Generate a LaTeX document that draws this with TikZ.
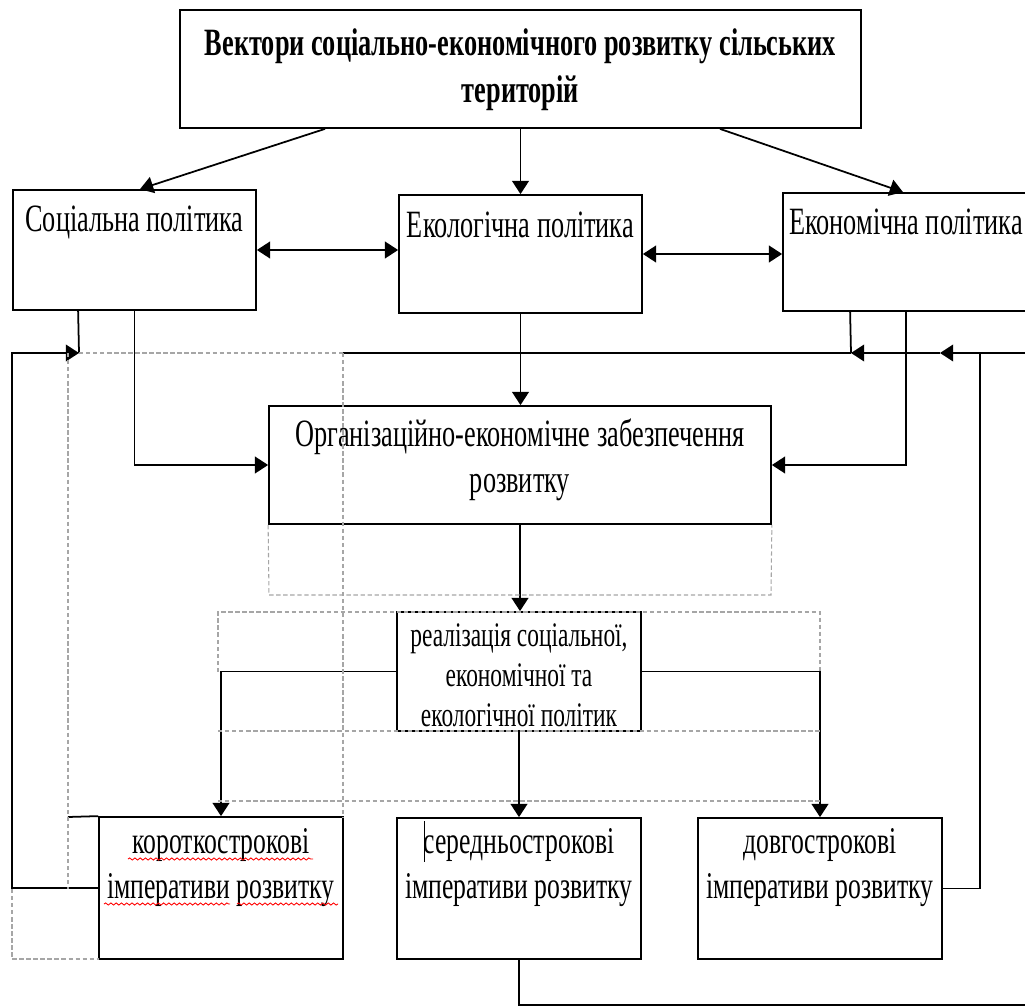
\documentclass[tikz,border=0pt]{standalone}
\usepackage{fontspec}
\setmainfont{Liberation Serif}[FakeStretch=0.68]
\usetikzlibrary{arrows.meta, positioning, fit, decorations.pathmorphing}

\begin{document}
\begin{tikzpicture}[
  x=0.02cm, y=-0.02cm,
  box/.style={rectangle, draw, line width=1pt, inner sep=0pt},
  txt/.style={inner sep=0pt, align=center, font=\fontsize{22}{26.6}\selectfont},
  arrow/.style={-{Triangle[length=7.5pt, width=9.5pt]}, line width=1pt},
  biarrow/.style={{Triangle[length=7.5pt, width=9.5pt]}-{Triangle[length=7.5pt, width=9.5pt]}, line width=1pt},
  link/.style={line width=1pt},
  frame/.style={gray!70, line width=0.6pt, dash pattern=on 2.5pt off 1.5pt},
  squiggle/.style={red, line width=0.5pt, decorate, decoration={snake, amplitude=0.6pt, segment length=3pt}}
]
  \useasboundingbox (0,0) rectangle (1025,1007);
  \clip (0,0) rectangle (1025,1007);

  % boxes
  \node[box, fit={(180,10) (861,128)}] (top) {};
  \node[box, fit={(13,190) (256,310)}] (soc) {};
  \node[box, fit={(399,195) (642,313)}] (eco) {};
  \node[box, fit={(783,193) (1029,311)}] (econ) {};
  \node[box, fit={(269,406) (771,524)}] (org) {};
  \node[box, fit={(397,612) (641,731)}] (real) {};
  \node[box, fit={(99,817) (343,959)}] (short) {};
  \node[box, fit={(397,818) (641,959)}] (med) {};
  \node[box, fit={(698,818) (942,959)}] (long) {};

  % texts
  \node[txt, font=\bfseries\fontsize{22}{27.2}\selectfont, anchor=north] (topt) at (520.5,28)
    {Вектори соціально-економічного розвитку сільських\\територій};
  \node[txt, anchor=base] (soct) at (134.5,232) {Соціальна політика};
  \node[txt, anchor=base] (ecot) at (520.5,237) {Екологічна політика};
  \node[txt, anchor=base] (econt) at (906,235) {Економічна політика};
  \node[txt, anchor=north] (orgt) at (520,418) {Організаційно-економічне забезпечення\\розвитку};
  \node[txt, font=\fontsize{19.6}{22.9}\selectfont, anchor=north] (realt) at (519,623)
    {реалізація соціальної,\\економічної та\\екологічної політик};
  \node[txt, font=\fontsize{21.5}{25.5}\selectfont, anchor=north] (shortt) at (221,828)
    {короткострокові\\імперативи розвитку};
  \node[txt, font=\fontsize{21.5}{25.5}\selectfont, anchor=north] (medt) at (519,828)
    {середньострокові\\імперативи розвитку};
  \node[txt, font=\fontsize{21.5}{25.5}\selectfont, anchor=north] (longt) at (820,828)
    {довгострокові\\імперативи розвитку};

  % bus points
  \coordinate (busL) at (79,353);
  \coordinate (busM) at (343,353);
  \coordinate (busE) at (851,353);
  \coordinate (busT) at (940,353);
  \coordinate (busR) at (1040,353);
  \coordinate (lftC) at (12,353);
  \coordinate (rgtC) at (980,353);
  \coordinate (botC) at (1040,1005);

  % connectors
  \draw[arrow] ([xshift=-3.91cm]top.south) -- ([xshift=0.11cm]soc.north);
  \draw[arrow] (top.south -| eco.north) -- (eco.north);
  \draw[arrow] ([xshift=3.99cm]top.south) -- ([xshift=-0.06cm]econ.north);
  \draw[biarrow] (soc.east) -- (soc.east -| eco.west);
  \draw[biarrow] (eco.east) -- (eco.east -| econ.west);

  \draw[link] ([xshift=1.32cm]soc.south west) -- (busL);
  \draw[arrow] (short.west) -| (lftC) -- (busL);
  \draw[arrow] (soc.south) |- (org.west);
  \draw[arrow] (econ.south) |- (org.east);
  \draw[link] ([xshift=1.36cm]econ.south west) -- (busE);
  \draw[arrow] (eco.south) -- (eco.south |- org.north);
  \draw[link] (busM) -- (busE);
  \draw[arrow] (busT) -- (busE);
  \draw[arrow] (med.south) |- (botC) -- (busR) -- (busT);
  \draw[link] (long.east) -| (rgtC);

  \draw[arrow] (org.south) -- (org.south |- real.north);
  \draw[arrow] (real.west) -| (short.north);
  \draw[arrow] (real.east) -| (long.north);
  \draw[arrow] (real.south) -- (real.south |- med.north);
  \draw[link] (68,817) -- (short.north west);

  % dashed frames
  \draw[frame] (busL) -- (busM);
  \draw[frame] (68,353) -- (68,889);
  \draw[frame] (busM) -- (343,817);
  \draw[frame] (12,889) -- (12,959) -- (99,959);
  \draw[frame] (org.south west) -- (269,595) -- (771,595) -- (org.south east);
  \draw[frame] (218,672) -- (218,612) -- (820,612) -- (820,672);
  \draw[frame] (218,731) -- (820,731);
  \draw[frame] (218,801) -- (820,801);

  % spelling marks and cursor
  \draw[squiggle] (128,859) -- (313,859);
  \draw[squiggle] (104,904) -- (230,904);
  \draw[squiggle] (237,904) -- (338,904);
  \draw[line width=0.5pt] (424,821) -- (424,862);
\end{tikzpicture}
\end{document}
